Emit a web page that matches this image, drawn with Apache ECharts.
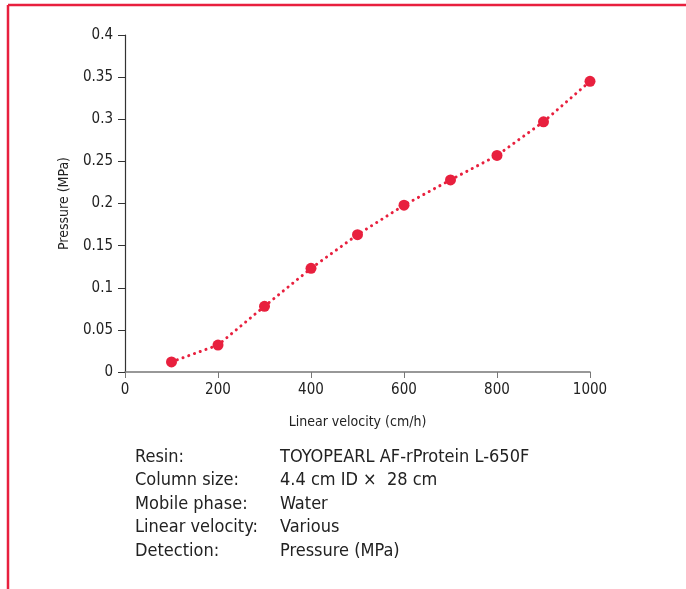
<!DOCTYPE html>
<html>
<head>
<meta charset="utf-8">
<script src="https://cdn.jsdelivr.net/npm/echarts@6/dist/echarts.min.js"></script>
<style>
  html, body { margin: 0; padding: 0; background: #fff; }
  #chart { width: 686px; height: 589px; }
</style>
</head>
<body>
<div id="chart"></div>
<script>
// 线速度 vs 压力
const velocity = [100, 200, 300, 400, 500, 600, 700, 800, 900, 1000];
const pressure = [0.012, 0.032, 0.078, 0.123, 0.163, 0.198, 0.228, 0.257, 0.297, 0.345];
const infoLabels = ['Resin:', 'Column size:', 'Mobile phase:', 'Linear velocity:', 'Detection:'];
const infoValues = ['TOYOPEARL AF-rProtein L-650F', '4.4 cm ID \u00d7  28 cm', 'Water', 'Various', 'Pressure (MPa)'];

const font = '"DejaVu Sans Condensed", "Liberation Sans Narrow", sans-serif';
const red = '#e8203e';

const myChart = echarts.init(document.getElementById('chart'));

const graphics = [
    { type: 'line', shape: { x1: 8, y1: 5, x2: 686, y2: 5 }, style: { stroke: red, lineWidth: 2.5 } },
    { type: 'line', shape: { x1: 8, y1: 5, x2: 8, y2: 589 }, style: { stroke: red, lineWidth: 2.5 } }
];
infoLabels.forEach((t, i) => {
    graphics.push({
        type: 'text', left: 135, top: 448 + i * 23.5,
        style: { text: t, font: '18px ' + font, fill: '#222' }
    });
    graphics.push({
        type: 'text', left: 280, top: 448 + i * 23.5,
        style: { text: infoValues[i], font: '18px ' + font, fill: '#222' }
    });
});

myChart.setOption({
    animation: false,
    textStyle: { fontFamily: font },
    grid: { left: 125, right: 96, top: 35, bottom: 217 },
    xAxis: {
        type: 'value',
        min: 0,
        max: 1000,
        interval: 200,
        name: 'Linear velocity (cm/h)',
        nameLocation: 'middle',
        nameGap: 43,
        nameTextStyle: { fontSize: 14, color: '#222' },
        axisLine: { onZero: false, lineStyle: { color: '#777', width: 1.5 } },
        axisTick: { show: true, length: 6, lineStyle: { color: '#777' } },
        axisLabel: { fontSize: 15, color: '#222', margin: 11, formatter: (v) => String(v) },
        splitLine: { show: false }
    },
    yAxis: {
        type: 'value',
        min: 0,
        max: 0.4,
        interval: 0.05,
        name: 'Pressure (MPa)',
        nameLocation: 'middle',
        nameGap: 54,
        nameTextStyle: { fontSize: 14, color: '#222' },
        axisLine: { show: true, lineStyle: { color: '#333', width: 1.2 } },
        axisTick: { show: true, length: 7, lineStyle: { color: '#333' } },
        axisLabel: { fontSize: 15, color: '#222', margin: 12 },
        splitLine: { show: false }
    },
    series: [
        {
            type: 'line',
            data: velocity.map((v, i) => [v, pressure[i]]),
            symbol: 'circle',
            symbolSize: 11,
            itemStyle: { color: red },
            lineStyle: { color: red, width: 3, type: [0.1, 6], cap: 'round' }
        }
    ],
    graphic: graphics
});
</script>
</body>
</html>
